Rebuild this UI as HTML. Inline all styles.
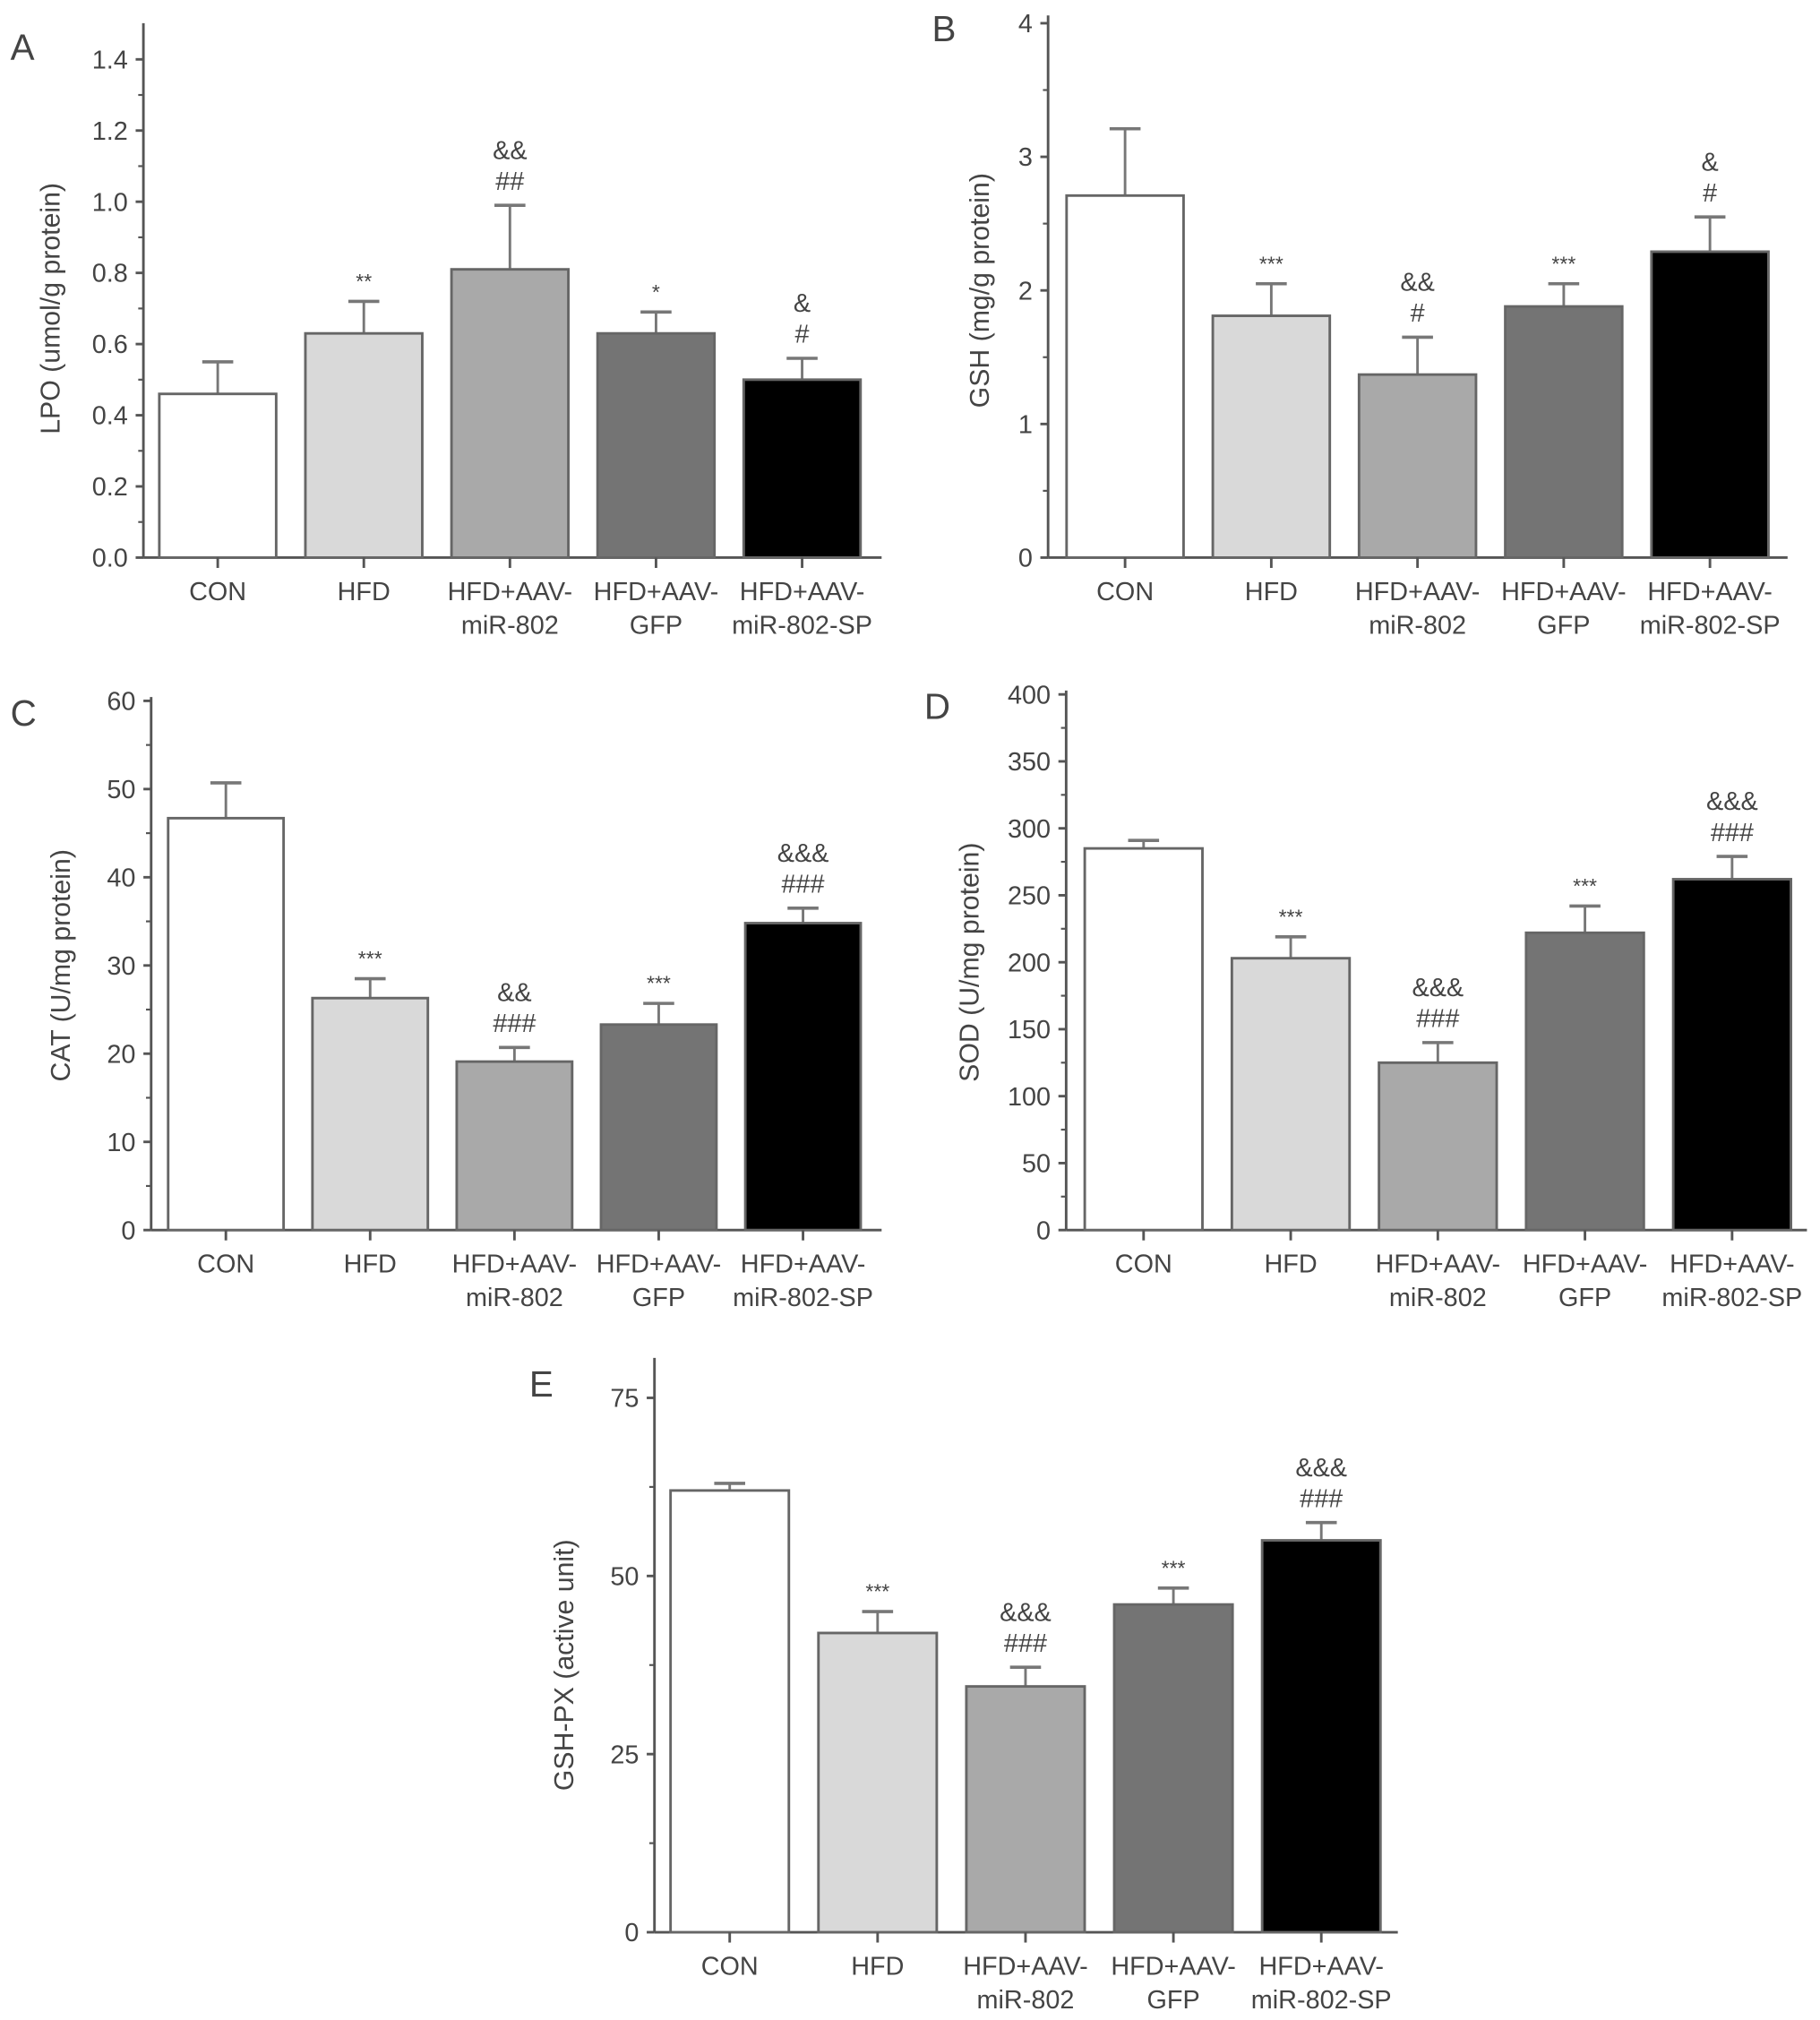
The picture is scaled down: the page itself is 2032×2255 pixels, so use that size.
<!DOCTYPE html>
<html><head><meta charset="utf-8"><style>
html,body{margin:0;padding:0;background:#fff}
svg{display:block}
text{font-family:"Liberation Sans",sans-serif;fill:#444}
</style></head><body>
<svg id="fig" width="2032" height="2255" viewBox="0 0 1410 1565" xmlns="http://www.w3.org/2000/svg"></svg>
<script>
const categories = ["CON","HFD","HFD+AAV-|miR-802","HFD+AAV-|GFP","HFD+AAV-|miR-802-SP"];
const fills = ["#ffffff","#d9d9d9","#a9a9a9","#747474","#000000"];

const lpoValues = [0.46,0.63,0.81,0.63,0.50];
const lpoErrors = [0.55,0.72,0.99,0.69,0.56];
const lpoTicks = ["0.0","0.2","0.4","0.6","0.8","1.0","1.2","1.4"];
const lpoMarks = [[],["**"],["##","&&"],["*"],["#","&"]];

const gshValues = [2.71,1.81,1.37,1.88,2.29];
const gshErrors = [3.21,2.05,1.65,2.05,2.55];
const gshTicks = ["0","1","2","3","4"];
const gshMarks = [[],["***"],["#","&&"],["***"],["#","&"]];

const catValues = [46.7,26.3,19.1,23.3,34.8];
const catErrors = [50.7,28.5,20.7,25.7,36.5];
const catTicks = ["0","10","20","30","40","50","60"];
const catMarks = [[],["***"],["###","&&"],["***"],["###","&&&"]];

const sodValues = [285,203,125,222,262];
const sodErrors = [291,219,140,242,279];
const sodTicks = ["0","50","100","150","200","250","300","350","400"];
const sodMarks = [[],["***"],["###","&&&"],["***"],["###","&&&"]];

const gpxValues = [62,42,34.5,46,55];
const gpxErrors = [63,45,37.2,48.3,57.5];
const gpxTicks = ["0","25","50","75"];
const gpxMarks = [[],["***"],["###","&&&"],["***"],["###","&&&"]];

const svg = document.getElementById('fig');
const NS = "http://www.w3.org/2000/svg";
function el(tag, attrs, parent){
  const e = document.createElementNS(NS, tag);
  for (const k in attrs) e.setAttribute(k, attrs[k]);
  (parent||svg).appendChild(e);
  return e;
}

function panel(p){
  const g = el('g', {});
  
  
  const ymax = parseFloat(p.ticks[p.ticks.length-1]);
  const yScale = v => p.base - (v / ymax) * (p.base - p.top);
  const xScale = i => p.x0 + p.step * (i + 0.5);
  const stroke = '#555';
  // letter
  const L = el('text', {x:p.lx, y:p.ly, 'font-size':28}, g);
  L.textContent = p.letter;
  
  
  // y axis
  const ya = el('line', {x1:p.ax, y1:p.axTop, x2:p.ax, y2:p.base, stroke:stroke, 'stroke-width':2}, g);
  
  
  const xa = el('line', {x1:p.ax, y1:p.base, x2:p.xEnd, y2:p.base, stroke:stroke, 'stroke-width':2}, g);
  
  
  p.ticks.forEach((t, i) => {
    const v = parseFloat(t);
    const y = yScale(v);
    el('line', {x1:p.ax-6, y1:y, x2:p.ax, y2:y, stroke:stroke, 'stroke-width':2}, g);
    const tx = el('text', {x:p.ax-12, y:y+7, 'font-size':20, 'text-anchor':'end'}, g);
    tx.textContent = t;
    
    
    if (i < p.ticks.length-1) {
      const vm = (v + parseFloat(p.ticks[i+1])) / 2;
      const ym = yScale(vm);
      el('line', {x1:p.ax-4, y1:ym, x2:p.ax, y2:ym, stroke:stroke, 'stroke-width':1.5}, g);
    }
  });
  // y title
  const yt = el('text', {x:0, y:0, 'font-size':21, 'text-anchor':'middle', transform:`translate(${p.tx},${(p.top+p.base)/2}) rotate(-90)`}, g);
  yt.textContent = p.title;
  
  
  const bw = p.step * 0.8;
  p.values.forEach((v, i) => {
    const cx = xScale(i);
    const yv = yScale(v), ye = yScale(p.errors[i]);
    const eb = el('line', {x1:cx, y1:ye, x2:cx, y2:yv, stroke:'#777', 'stroke-width':2}, g);
    
    
    el('line', {x1:cx-12, y1:ye, x2:cx+12, y2:ye, stroke:'#777', 'stroke-width':2.5}, g);
    const r = el('rect', {x:cx-bw/2, y:yv, width:bw, height:p.base-yv, fill:fills[i], stroke:'#666', 'stroke-width':2}, g);
    
    
    el('line', {x1:cx, y1:p.base, x2:cx, y2:p.base+8, stroke:stroke, 'stroke-width':2}, g);
    categories[i].split('|').forEach((line, k) => {
      const t = el('text', {x:cx, y:p.base+33+k*26, 'font-size':20, 'text-anchor':'middle'}, g);
      t.textContent = line;
      
      
    });
    p.marks[i].forEach((m, k) => {
      const star = m.indexOf('*') >= 0;
      const t = el('text', {x:cx, y:ye - (star ? 10 : 12) - k*24, 'font-size': star ? 16 : 20, 'text-anchor':'middle'}, g);
      t.textContent = m;
      
      
    });
  });
}

panel({letter:'A', lx:8, ly:46, ax:111, axTop:18, base:432, top:46, x0:112, step:113.2, xEnd:683, tx:46, title:'LPO (umol/g protein)', ticks:lpoTicks, values:lpoValues, errors:lpoErrors, marks:lpoMarks});
panel({letter:'B', lx:722, ly:32, ax:812, axTop:12, base:432, top:18, x0:815, step:113.3, xEnd:1385, tx:766, title:'GSH (mg/g protein)', ticks:gshTicks, values:gshValues, errors:gshErrors, marks:gshMarks});
panel({letter:'C', lx:8, ly:562, ax:117, axTop:540, base:953, top:543, x0:119, step:111.8, xEnd:683, tx:54, title:'CAT (U/mg protein)', ticks:catTicks, values:catValues, errors:catErrors, marks:catMarks});
panel({letter:'D', lx:716, ly:557, ax:826, axTop:535, base:953, top:538, x0:829, step:114.0, xEnd:1400, tx:758, title:'SOD (U/mg protein)', ticks:sodTicks, values:sodValues, errors:sodErrors, marks:sodMarks});
panel({letter:'E', lx:410, ly:1082, ax:507, axTop:1052, base:1497, top:1083, x0:508, step:114.6, xEnd:1083, tx:444, title:'GSH-PX (active unit)', ticks:gpxTicks, values:gpxValues, errors:gpxErrors, marks:gpxMarks});
</script>
</body></html>
